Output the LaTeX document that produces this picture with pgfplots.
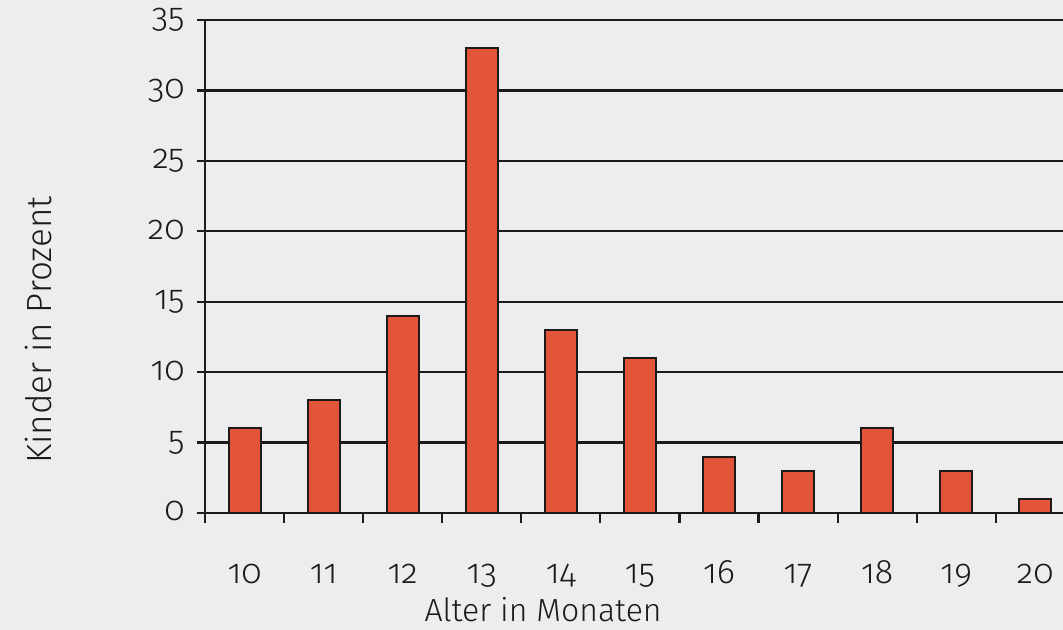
\documentclass[border=0pt]{standalone}
\usepackage{pgfplots}
\pgfplotsset{compat=1.18}
\usepackage{fontspec}
\setmainfont{Fira Sans Light}
\newfontfamily\fl{Fira Sans Light}[RawFeature=+onum]
\definecolor{barfill}{HTML}{E2553A}
\definecolor{bgcol}{HTML}{ECEDEF}
\definecolor{ink}{HTML}{1E1A1A}
\begin{document}
\begin{tikzpicture}
\fill[bgcol] (-102.5pt,-58.5pt) rectangle (429pt,256.5pt);
\begin{axis}[
  at={(0,0)}, anchor=south west,
  scale only axis,
  width=429pt, height=246.5pt,
  xmin=9.5, xmax=20.35,
  ymin=0, ymax=35,
  ytick={0,5,...,35},
  yticklabels={},
  xtick={10,...,20},
  xticklabels={},
  minor xtick={9.5,10.5,...,20.5},
  axis x line*=bottom,
  axis y line*=left,
  axis line style={line width=1.2pt, ink, -},
  tick align=outside,
  major tick length=4pt,
  minor tick length=5pt,
  major x tick style={draw=none},
  tick style={line width=1.1pt, ink},
  ymajorgrids,
  grid style={line width=1.1pt, ink},
  xlabel={Alter in Monaten},
  ylabel={Kinder in Prozent},
  xlabel style={at={(axis description cs:0.394,-0.197)}, anchor=center, text=ink, font=\fontsize{16}{20}\selectfont\fl},
  ylabel style={at={(axis description cs:-0.1946,0.371)}, anchor=center, text=ink, font=\fontsize{17.5}{20}\selectfont\fl},
]
\addplot[ybar, bar width=16pt, fill=barfill, draw=ink, line width=1pt]
  coordinates {(10,6) (11,8) (12,14) (13,33) (14,13) (15,11) (16,4) (17,3) (18,6) (19,3) (20,1)};
\end{axis}
\foreach \k in {10,...,20}
  \node[anchor=base, inner sep=0pt, text=ink, font=\fontsize{17}{20}\selectfont\fl]
    at ({(\k-9.5)*39.539pt},-35pt) {\k};
\foreach \v in {0,5,...,35}
  \node[anchor=base east, inner sep=0pt, text=ink, font=\fontsize{17}{20}\selectfont\fl]
    at (-10pt,{\v*7.0429pt-4pt}) {\v};
\pgfresetboundingbox
\useasboundingbox (-102.5pt,-58.5pt) rectangle (429pt,256.5pt);
\end{tikzpicture}
\end{document}
